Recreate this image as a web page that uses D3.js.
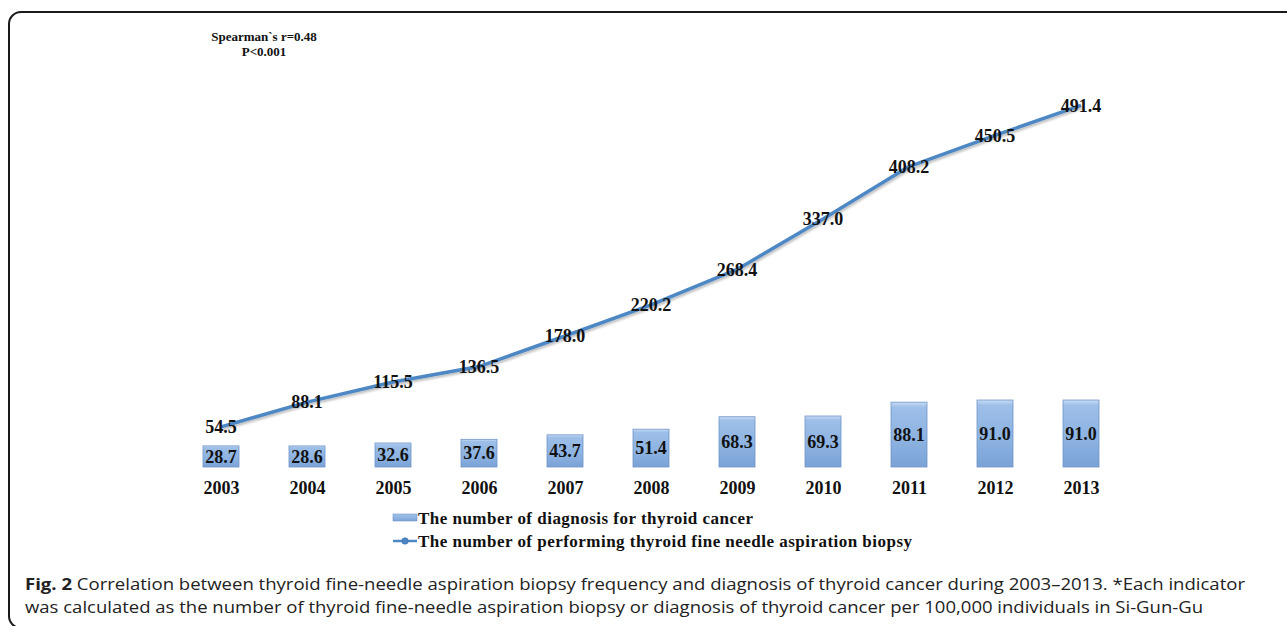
<!DOCTYPE html>
<html>
<head>
<meta charset="utf-8">
<script src="https://cdn.jsdelivr.net/npm/d3@7"></script>
<style>
  html, body { margin: 0; padding: 0; background: #fff; }
  svg { display: block; }
</style>
</head>
<body>
<svg id="chart" width="1287" height="626"></svg>
<script>
// Years on the horizontal axis
const years = ["2003", "2004", "2005", "2006", "2007", "2008", "2009", "2010", "2011", "2012", "2013"];
// Thyroid cancer diagnoses per 100,000 (bars)
const diagnosis = [28.7, 28.6, 32.6, 37.6, 43.7, 51.4, 68.3, 69.3, 88.1, 91.0, 91.0];
// Fine-needle aspiration biopsies per 100,000 (line)
const biopsy = [54.5, 88.1, 115.5, 136.5, 178.0, 220.2, 268.4, 337.0, 408.2, 450.5, 491.4];

const legendLabels = [
  "The number of diagnosis for thyroid cancer",
  "The number of performing thyroid fine needle aspiration biopsy"
];
const statLines = ["Spearman`s r=0.48", "P<0.001"];
const captionBold = "Fig. 2";
const captionLine1 = " Correlation between thyroid fine-needle aspiration biopsy frequency and diagnosis of thyroid cancer during 2003\u20132013. *Each indicator";
const captionLine2 = "was calculated as the number of thyroid fine-needle aspiration biopsy or diagnosis of thyroid cancer per 100,000 individuals in Si-Gun-Gu";

const svg = d3.select("#chart");
const serif = "'Liberation Serif', 'Times New Roman', serif";

// Frame around the figure
svg.append("rect")
  .attr("x", 9).attr("y", 12)
  .attr("width", 1300).attr("height", 616)
  .attr("rx", 12).attr("ry", 12)
  .attr("fill", "none").attr("stroke", "#1a1a1a").attr("stroke-width", 2);

const defs = svg.append("defs");
const grad = defs.append("linearGradient")
  .attr("id", "barFill").attr("x1", 0).attr("y1", 0).attr("x2", 0).attr("y2", 1);
grad.append("stop").attr("offset", "0%").attr("stop-color", "#c9dcf3");
grad.append("stop").attr("offset", "8%").attr("stop-color", "#9dbfe8");
grad.append("stop").attr("offset", "60%").attr("stop-color", "#8cb2e1");
grad.append("stop").attr("offset", "100%").attr("stop-color", "#7aa2d6");

const shadow = defs.append("filter").attr("id", "lineShadow")
  .attr("x", "-5%").attr("y", "-5%").attr("width", "110%").attr("height", "120%");
shadow.append("feDropShadow")
  .attr("dx", 1).attr("dy", 2).attr("stdDeviation", 1.2)
  .attr("flood-color", "#000").attr("flood-opacity", 0.25);

// Scales shared by bars and line
const x = d3.scalePoint().domain(years).range([221, 1081]);
const y = d3.scaleLinear().domain([0, 500]).range([467, 99]);
const barW = 36;

// Bars
svg.append("g").selectAll("rect")
  .data(diagnosis)
  .join("rect")
  .attr("x", (d, i) => x(years[i]) - barW / 2)
  .attr("y", d => y(d))
  .attr("width", barW)
  .attr("height", d => y(0) - y(d))
  .attr("fill", "url(#barFill)")
  .attr("stroke", "#6f95c8").attr("stroke-width", 0.8);

// Line
const line = d3.line()
  .x((d, i) => x(years[i]))
  .y(d => y(d));
svg.append("path")
  .datum(biopsy)
  .attr("d", line)
  .attr("fill", "none")
  .attr("stroke", "#4d87c4")
  .attr("stroke-width", 3.5)
  .attr("stroke-linejoin", "round")
  .attr("filter", "url(#lineShadow)");

// Bar value labels
svg.append("g").selectAll("text")
  .data(diagnosis)
  .join("text")
  .attr("x", (d, i) => x(years[i]))
  .attr("y", d => (y(d) + y(0)) / 2)
  .attr("dy", "0.35em")
  .attr("text-anchor", "middle")
  .attr("font-family", serif).attr("font-weight", "bold").attr("font-size", 18)
  .attr("fill", "#111")
  .text(d => d.toFixed(1));

// Line value labels
svg.append("g").selectAll("text")
  .data(biopsy)
  .join("text")
  .attr("x", (d, i) => x(years[i]))
  .attr("y", d => y(d))
  .attr("dy", "0.35em")
  .attr("text-anchor", "middle")
  .attr("font-family", serif).attr("font-weight", "bold").attr("font-size", 18)
  .attr("fill", "#111")
  .text(d => d.toFixed(1));

// Category axis labels
const xAxis = d3.axisBottom(x).tickSize(0).tickPadding(0);
const gx = svg.append("g").attr("transform", "translate(0,481)").call(xAxis);
gx.select(".domain").remove();
gx.selectAll("text")
  .attr("font-family", serif).attr("font-weight", "bold").attr("font-size", 18)
  .attr("fill", "#111").attr("dy", "0.71em");

// Statistics note
svg.append("g").selectAll("text")
  .data(statLines)
  .join("text")
  .attr("x", 264)
  .attr("y", (d, i) => 41 + i * 15)
  .attr("text-anchor", "middle")
  .attr("font-family", serif).attr("font-weight", "bold").attr("font-size", 13)
  .attr("fill", "#111")
  .text(d => d);

// Legend
const lg = svg.append("g");
lg.append("rect")
  .attr("x", 393).attr("y", 514).attr("width", 24).attr("height", 7)
  .attr("fill", "url(#barFill)").attr("stroke", "#6f95c8").attr("stroke-width", 0.6);
lg.append("line")
  .attr("x1", 393).attr("x2", 417).attr("y1", 541).attr("y2", 541)
  .attr("stroke", "#4d87c4").attr("stroke-width", 2.5);
lg.append("circle")
  .attr("cx", 405).attr("cy", 541).attr("r", 3.2)
  .attr("fill", "#4d87c4").attr("stroke", "#2f6aa8").attr("stroke-width", 0.6);
const legendWidths = [335, 494];
lg.selectAll("text")
  .data(legendLabels)
  .join("text")
  .attr("x", 418)
  .attr("y", (d, i) => 524 + i * 23)
  .attr("font-family", serif).attr("font-weight", "bold").attr("font-size", 17)
  .attr("fill", "#111")
  .attr("textLength", (d, i) => legendWidths[i])
  .attr("lengthAdjust", "spacing")
  .text(d => d);

// Caption
const sans = "'Open Sans', 'Noto Sans', sans-serif";
const cap1 = svg.append("text")
  .attr("x", 25).attr("y", 590)
  .attr("font-family", sans).attr("font-size", 16).attr("fill", "#222")
  .attr("textLength", 1220).attr("lengthAdjust", "spacingAndGlyphs");
cap1.append("tspan").attr("font-weight", "bold").text(captionBold);
cap1.append("tspan").text(captionLine1);
svg.append("text")
  .attr("x", 25).attr("y", 613)
  .attr("font-family", sans).attr("font-size", 16).attr("fill", "#222")
  .attr("textLength", 1178).attr("lengthAdjust", "spacingAndGlyphs")
  .text(captionLine2);
</script>
</body>
</html>
